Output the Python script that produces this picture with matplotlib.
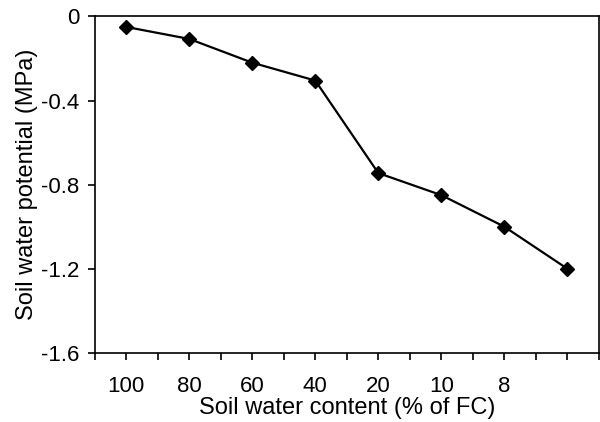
import matplotlib
matplotlib.use('Agg')
import matplotlib.pyplot as plt
import numpy as np

# Soil water content levels (% of field capacity); last level has no label
content_labels = ['100', '80', '60', '40', '20', '10', '8', '']
# Soil water potential (MPa)
potential = [-0.05, -0.107, -0.22, -0.305, -0.745, -0.85, -1.0, -1.20]

y_ticks = [0, -0.4, -0.8, -1.2, -1.6]
y_tick_labels = ['0', '-0.4', '-0.8', '-1.2', '-1.6']

plt.rcParams['font.family'] = ['Liberation Sans', 'DejaVu Sans']

fig = plt.figure(figsize=(6, 4.22), dpi=100)
ax = fig.add_axes([0.158, 0.164, 0.840, 0.797])

x = np.arange(len(potential))
ax.plot(x, potential, color='black', linewidth=1.6, marker='D', markersize=7,
        markerfacecolor='black', markeredgecolor='black')

ax.set_xlim(-0.5, len(potential) - 0.5)
ax.set_ylim(-1.6, 0)

ax.set_xticks(x)
ax.set_xticklabels(content_labels)
ax.set_xticks(np.arange(-0.5, len(potential), 1.0), minor=True)
ax.set_yticks(y_ticks)
ax.set_yticklabels(y_tick_labels)

ax.tick_params(axis='both', which='both', direction='out', length=5, width=1.2,
               labelsize=16, color='black')
ax.tick_params(axis='x', which='major', pad=12)
ax.tick_params(axis='y', pad=6)

for side in ax.spines.values():
    side.set_linewidth(1.2)
    side.set_color('black')

ax.set_xlabel('Soil water content (% of FC)', fontsize=17, labelpad=0)
ax.set_ylabel('Soil water potential (MPa)', fontsize=17, labelpad=2)

fig.savefig('out.png', dpi=100)
